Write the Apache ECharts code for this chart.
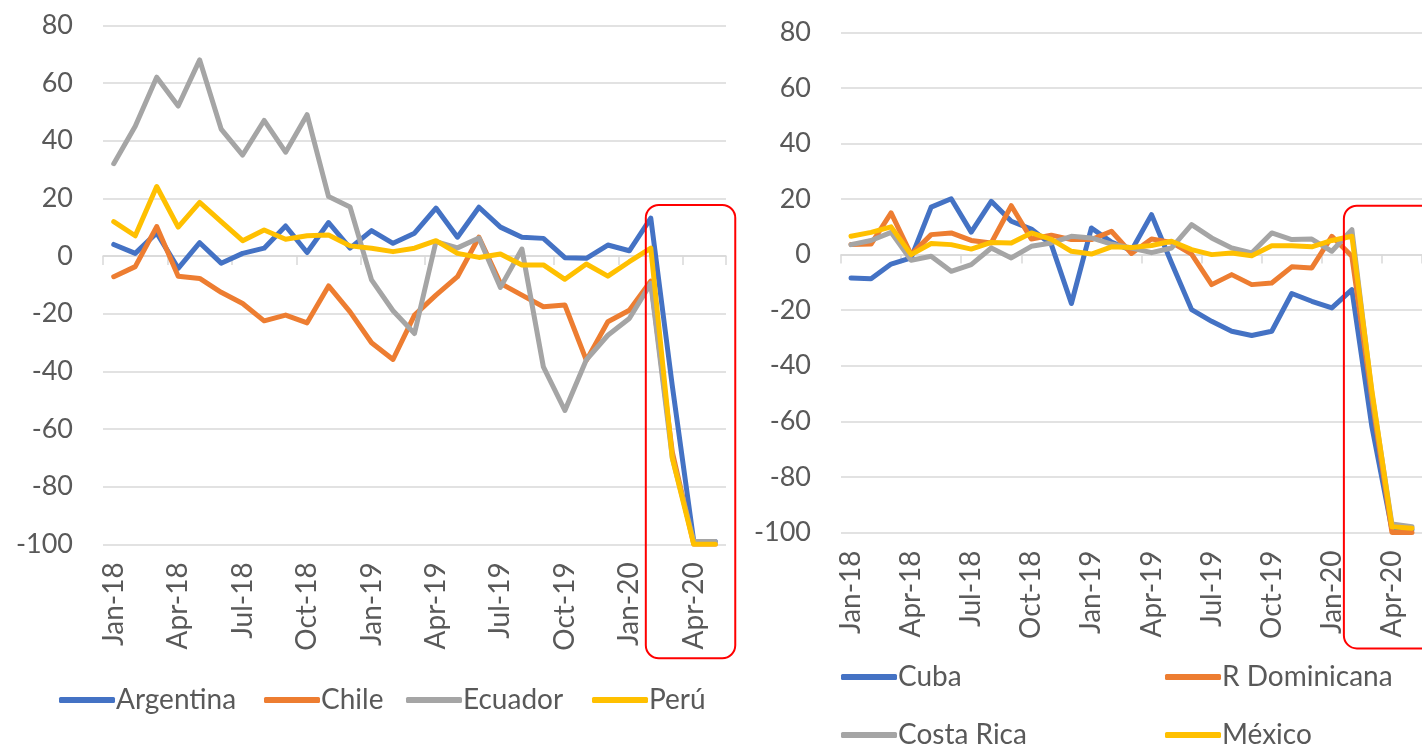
<!DOCTYPE html>
<html>
<head>
<meta charset="utf-8">
<script src="https://cdn.jsdelivr.net/npm/echarts@6/dist/echarts.min.js"></script>
<style>
html,body{margin:0;padding:0;background:#fff;}
#c{width:1422px;height:747px;}
</style>
</head>
<body>
<div id="c"></div>
<script>
const months = ['Jan-18','Feb-18','Mar-18','Apr-18','May-18','Jun-18','Jul-18','Aug-18','Sep-18','Oct-18','Nov-18','Dec-18',
  'Jan-19','Feb-19','Mar-19','Apr-19','May-19','Jun-19','Jul-19','Aug-19','Sep-19','Oct-19','Nov-19','Dec-19',
  'Jan-20','Feb-20','Mar-20','Apr-20','May-20'];
const yTicks = { min: -100, max: 80, interval: 20 };

const argentina = [4.0, 0.9, 8, -4.3, 4.6, -2.5, 0.9, 2.7, 10.4, 1.2, 11.6, 2.7, 8.8, 4.4, 7.9, 16.6, 6.5, 16.9, 10, 6.5, 6.1, -0.6, -0.8, 3.8, 1.8, 13.1, -45, -99, -99];
const chile = [-7.2, -3.7, 10.2, -7.0, -7.8, -12.6, -16.5, -22.5, -20.5, -23.2, -10.4, -19.4, -30.1, -35.9, -20.5, -13.6, -7.2, 6.5, -9.5, -13.6, -17.6, -17, -36.2, -22.8, -18.8, -8.7, -68, -100, -100];
const ecuador = [32, 45, 62, 52, 68, 44, 35, 47, 36, 49, 20.6, 17, -8.3, -19, -26.9, 5, 2.8, 6.2, -10.9, 2.4, -38.5, -53.6, -36, -27.5, -21.7, -9.5, -70, -99, -99];
const peru = [11.9, 7.0, 24.1, 10, 18.6, 11.9, 5.3, 9.0, 5.8, 7.0, 7.3, 3.5, 2.7, 1.5, 2.7, 5.3, 0.9, -0.5, 0.7, -3.1, -3.1, -8.1, -2.8, -7, -2, 2.7, -70, -100, -100];

const cuba = [-8.4, -8.7, -3.4, -1.2, 17.1, 20.1, 8.1, 19.2, 12, 9.2, 3.6, -17.6, 9.6, 4.5, 1.5, 14.4, -3, -19.8, -24, -27.6, -29.1, -27.6, -14, -16.8, -19.2, -12.6, -62, -99, -99];
const rDominicana = [3.6, 3.8, 15, 0, 7.2, 7.8, 5.1, 4.2, 17.6, 5.6, 7.0, 5.4, 5.4, 8.4, 0.4, 5.6, 4.4, 0.2, -10.8, -7.2, -10.8, -10.2, -4.4, -4.8, 6.6, -0.6, -52, -100, -100];
const costaRica = [3.6, 5.1, 8.0, -2, -0.6, -6, -3.6, 2.4, -1.2, 3, 4.2, 6.6, 6, 3.8, 2.4, 0.7, 2.4, 10.8, 6, 2.4, 0.6, 7.8, 5.4, 5.6, 1.2, 9, -50, -97, -98];
const mexico = [6.6, 8, 10, 0, 4, 3.6, 2, 4.4, 4.2, 7.8, 5.5, 1.2, 0.2, 2.8, 2.6, 3.3, 4.8, 1.8, 0, 0.6, -0.4, 3.2, 3.2, 2.8, 5.1, 6.6, -49, -98, -98.5];

const COLORS = ['#4472C4', '#ED7D31', '#A5A5A5', '#FFC000'];
const FONT = 'Lato';
const TXT = '#595959';
const GRIDC = '#D9D9D9';

function labelXAxis(gi) {
  return {
    type: 'category', gridIndex: gi, data: months, boundaryGap: true, position: 'bottom',
    axisLine: { show: false, onZero: false }, axisTick: { show: false }, splitLine: { show: false },
    axisLabel: { interval: 2, rotate: 90, margin: 18, color: TXT, fontFamily: FONT, fontSize: 28 }
  };
}
function zeroXAxis(gi, yi) {
  return {
    type: 'category', gridIndex: gi, data: months, boundaryGap: true, position: 'bottom',
    axisLine: { show: true, onZero: true, onZeroAxisIndex: yi, lineStyle: { color: GRIDC, width: 1.5 } },
    axisTick: { show: true, interval: 2, length: 9, lineStyle: { color: GRIDC, width: 1.5 } },
    axisLabel: { show: false }, splitLine: { show: false }
  };
}
function yAx(gi) {
  return {
    type: 'value', gridIndex: gi, min: yTicks.min, max: yTicks.max, interval: yTicks.interval,
    axisLine: { show: false }, axisTick: { show: false },
    splitLine: { lineStyle: { color: GRIDC, width: 1.5 } },
    axisLabel: { margin: 30, color: TXT, fontFamily: FONT, fontSize: 27 }
  };
}
function ser(name, data, ci, xi, yi) {
  return {
    name, type: 'line', data, xAxisIndex: xi, yAxisIndex: yi, symbol: 'none', smooth: false,
    color: COLORS[ci],
    lineStyle: { width: 5, color: COLORS[ci], cap: 'round', join: 'round' }
  };
}
function leg(name, left, top) {
  return {
    data: [name], left, top, icon: 'roundRect', itemWidth: 56, itemHeight: 6, itemGap: 0,
    textStyle: { color: TXT, fontFamily: FONT, fontSize: 28, padding: [0, 0, 0, -4] },
    selectedMode: false
  };
}

const chart = echarts.init(document.getElementById('c'), null, { renderer: 'canvas' });
chart.setOption({
  animation: false,
  backgroundColor: '#fff',
  grid: [
    { left: 103, top: 25.3, width: 623, height: 519 },
    { left: 841, top: 32.4, width: 585, height: 500 }
  ],
  xAxis: [labelXAxis(0), zeroXAxis(0, 0), labelXAxis(1), zeroXAxis(1, 1)],
  yAxis: [yAx(0), yAx(1)],
  legend: [
    leg('Argentina', 54, 681), leg('Chile', 259, 681), leg('Ecuador', 401, 681), leg('Perú', 587, 681),
    leg('Cuba', 836, 658), leg('R Dominicana', 1160, 658), leg('Costa Rica', 836, 716), leg('México', 1160, 716)
  ],
  series: [
    ser('Argentina', argentina, 0, 0, 0), ser('Chile', chile, 1, 0, 0), ser('Ecuador', ecuador, 2, 0, 0), ser('Perú', peru, 3, 0, 0),
    ser('Cuba', cuba, 0, 2, 1), ser('R Dominicana', rDominicana, 1, 2, 1), ser('Costa Rica', costaRica, 2, 2, 1), ser('México', mexico, 3, 2, 1)
  ]
});

function box(xi, yi, x1Off, x2Off, topVal, bottomOff) {
  const a = chart.convertToPixel({ xAxisIndex: xi, yAxisIndex: yi }, ['Feb-20', topVal]);
  const b = chart.convertToPixel({ xAxisIndex: xi, yAxisIndex: yi }, ['May-20', yTicks.min]);
  const x = a[0] + x1Off, y = a[1];
  return {
    type: 'rect', silent: true, z: 100,
    shape: { x, y, width: b[0] + x2Off - x, height: b[1] + bottomOff - y, r: 13 },
    style: { fill: 'none', stroke: '#FF0000', lineWidth: 2 }
  };
}
chart.setOption({
  graphic: [box(0, 0, -5, 20, 17.7, 114), box(2, 1, -8, 40, 17.6, 116)]
});
</script>
</body>
</html>
